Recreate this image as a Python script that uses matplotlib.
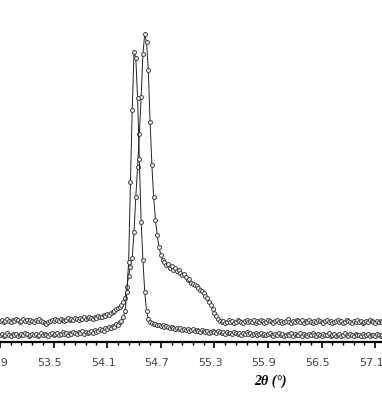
import numpy as np
import matplotlib.pyplot as plt
import matplotlib.transforms as mtransforms

# 2theta scan grid (deg), step 0.02
two_theta = np.arange(215) * 0.02 + 52.90

# sample 1 (lower trace, peak ~54.40)
inten_a = [
    7, 8, 6, 7, 9, 7, 6, 8, 7, 8,
    6, 7, 8, 7, 9, 8, 6, 7, 8, 7,
    8, 6, 7, 9, 7, 8, 7, 6, 8, 9,
    7, 8, 9, 7, 8, 10, 8, 9, 7, 9,
    8, 10, 9, 8, 10, 9, 11, 8, 10, 9,
    10, 11, 9, 12, 10, 11, 13, 12, 11, 14,
    13, 15, 14, 16, 15, 18, 17, 20, 21, 25,
    31, 50, 80, 160, 232, 290, 284, 244, 183, 120,
    82, 50, 31, 23, 20, 19, 18, 18, 17, 17,
    16, 17, 15, 16, 15, 14, 15, 14, 13, 14,
    13, 14, 12, 13, 12, 13, 11, 12, 13, 11,
    12, 11, 10, 12, 11, 10, 11, 9, 10, 11,
    10, 9, 11, 10, 9, 10, 8, 10, 9, 9,
    8, 10, 9, 8, 9, 7, 9, 8, 10, 8,
    9, 7, 8, 9, 7, 8, 9, 7, 8, 7,
    8, 9, 7, 6, 8, 7, 9, 7, 8, 6,
    7, 8, 7, 9, 6, 8, 7, 7, 9, 6,
    8, 7, 6, 8, 7, 9, 7, 6, 8, 7,
    6, 8, 7, 7, 9, 6, 7, 8, 6, 7,
    8, 6, 7, 9, 7, 6, 8, 7, 6, 8,
    7, 7, 6, 8, 6, 7, 8, 6, 7, 7,
    6, 8, 7, 6, 7,
]

# sample 2 (upper trace, peak ~54.53 with shoulder)
inten_b = [
    21, 22, 20, 21, 23, 21, 20, 22, 21, 23,
    22, 20, 21, 23, 21, 22, 20, 22, 21, 20,
    22, 21, 23, 21, 20, 19, 18, 20, 21, 22,
    21, 23, 22, 21, 23, 22, 21, 22, 24, 22,
    23, 22, 24, 23, 22, 24, 23, 25, 23, 24,
    25, 24, 23, 25, 24, 26, 25, 25, 27, 26,
    28, 27, 29, 30, 31, 33, 34, 35, 37, 40,
    44, 55, 66, 75, 84, 110, 145, 175, 208, 245,
    288, 308, 300, 272, 220, 177, 145, 122, 107, 95,
    87, 82, 80, 77, 78, 74, 76, 72, 74, 71,
    72, 69, 67, 68, 65, 62, 63, 59, 58, 57,
    56, 54, 52, 51, 49, 46, 44, 40, 37, 33,
    29, 26, 23, 21, 20, 21, 19, 20, 22, 20,
    21, 19, 20, 22, 21, 20, 19, 21, 22, 20,
    21, 20, 22, 19, 21, 20, 22, 21, 19, 20,
    22, 21, 20, 19, 21, 22, 20, 21, 19, 20,
    21, 23, 20, 19, 21, 20, 22, 21, 20, 22,
    19, 21, 20, 22, 20, 19, 21, 20, 22, 21,
    20, 19, 21, 22, 20, 21, 19, 20, 21, 22,
    20, 21, 19, 20, 22, 21, 20, 19, 21, 20,
    22, 20, 21, 19, 20, 21, 20, 22, 21, 20,
    19, 21, 20, 21, 20,
]

major_ticks = [52.9, 53.5, 54.1, 54.7, 55.3, 55.9, 56.5, 57.1]
tick_labels = ['52.9', '53.5', '54.1', '54.7', '55.3', '55.9', '56.5', '57.1']

fig = plt.figure(figsize=(3.82, 4.06), dpi=100)
ax = fig.add_axes([0.0, 63 / 406, 1.0, 343 / 406])

style = dict(color='#222222', lw=0.7, marker='o', ms=2.8, mfc='white',
             mec='#444444', mew=0.75)
ax.plot(two_theta, inten_b, **style)
ax.plot(two_theta, inten_a, **style)

ax.set_xlim(52.908, 57.176)
ax.set_ylim(0, 343)

for s in ['left', 'right', 'top']:
    ax.spines[s].set_visible(False)
ax.spines['bottom'].set_linewidth(1.6)
ax.set_yticks([])

ax.set_xticks(major_ticks)
ax.set_xticklabels(tick_labels)
ax.set_xticks(np.arange(52.9, 57.2, 0.12), minor=True)
ax.tick_params(axis='x', which='major', direction='out', length=4, width=1.2,
               pad=7, labelsize=8, labelcolor='#444444')
ax.tick_params(axis='x', which='minor', direction='out', length=2.5, width=1.0)

# labels sit a little left of their ticks in the original
shift = mtransforms.ScaledTranslation(-0.04, 0, fig.dpi_scale_trans)
for lbl in ax.get_xticklabels():
    lbl.set_transform(lbl.get_transform() + shift)

ax.set_xlabel('2θ (°)', fontsize=10, fontweight='bold', fontstyle='italic',
              family='Liberation Serif')
ax.xaxis.set_label_coords(270 / 382, -0.093)

fig.savefig('out.png', dpi=100)
